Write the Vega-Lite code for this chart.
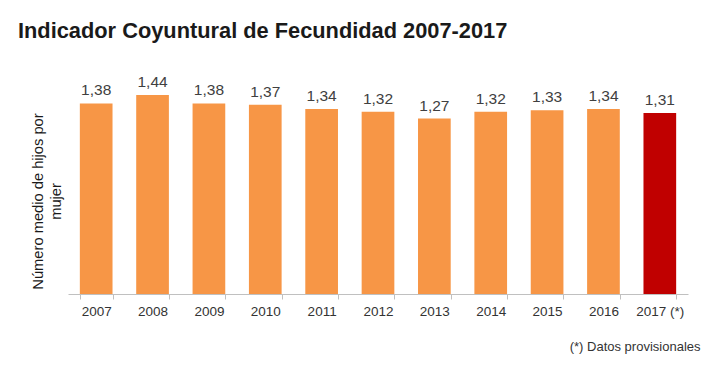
{
  "$schema": "https://vega.github.io/schema/vega-lite/v6.json",
  "autosize": "none",
  "width": 620,
  "height": 221,
  "padding": {"left": 68, "top": 73, "right": 32, "bottom": 73},
  "background": "white",
  "config": {
    "view": {"stroke": null},
    "locale": {"number": {"decimal": ",", "thousands": ".", "grouping": [3], "currency": ["", " €"]}},
    "font": "Liberation Sans"
  },
  "title": {
    "text": "Indicador Coyuntural de Fecundidad 2007-2017",
    "anchor": "start",
    "frame": "group",
    "dx": -50,
    "offset": 30,
    "fontSize": 21.8,
    "fontWeight": "bold",
    "color": "#1a1a1a",
    "font": "Liberation Sans"
  },
  "data": {
    "values": [
      {"year": "2007", "value": 1.38, "type": "definitivo"},
      {"year": "2008", "value": 1.44, "type": "definitivo"},
      {"year": "2009", "value": 1.38, "type": "definitivo"},
      {"year": "2010", "value": 1.37, "type": "definitivo"},
      {"year": "2011", "value": 1.34, "type": "definitivo"},
      {"year": "2012", "value": 1.32, "type": "definitivo"},
      {"year": "2013", "value": 1.27, "type": "definitivo"},
      {"year": "2014", "value": 1.32, "type": "definitivo"},
      {"year": "2015", "value": 1.33, "type": "definitivo"},
      {"year": "2016", "value": 1.34, "type": "definitivo"},
      {"year": "2017 (*)", "value": 1.31, "type": "provisional"}
    ]
  },
  "encoding": {
    "x": {
      "field": "year",
      "type": "nominal",
      "sort": null,
      "scale": {"paddingInner": 0.42, "paddingOuter": 0.21},
      "axis": {
        "title": "(*) Datos provisionales",
        "titleAnchor": "end",
        "titleAlign": "right",
        "titleX": 632,
        "titleY": 46,
        "titleFontSize": 13,
        "titleFontWeight": "normal",
        "titleColor": "#333333",
        "labelAngle": 0,
        "labelFontSize": 13.5,
        "labelColor": "#333333",
        "labelPadding": 5,
        "domainColor": "#c0c0c0",
        "tickColor": "#c0c0c0",
        "tickBand": "extent",
        "tickSize": 5
      }
    },
    "y": {
      "field": "value",
      "type": "quantitative",
      "scale": {"domain": [0, 1.6]},
      "axis": {
        "title": ["Número medio de hijos por", "mujer"],
        "titleFontSize": 14.7,
        "titleFontWeight": "normal",
        "titleColor": "#1a1a1a",
        "titleLineHeight": 18,
        "titleY": 128,
        "titlePadding": 5,
        "labels": false,
        "ticks": false,
        "domain": false,
        "grid": false
      }
    }
  },
  "layer": [
    {
      "mark": {"type": "bar"},
      "encoding": {
        "color": {
          "field": "type",
          "type": "nominal",
          "scale": {"domain": ["definitivo", "provisional"], "range": ["#F79646", "#C00000"]},
          "legend": null
        }
      }
    },
    {
      "mark": {"type": "text", "baseline": "bottom", "dy": -5, "fontSize": 15.5, "color": "#404040"},
      "encoding": {
        "text": {"field": "value", "type": "quantitative", "format": ".2f"}
      }
    }
  ]
}
